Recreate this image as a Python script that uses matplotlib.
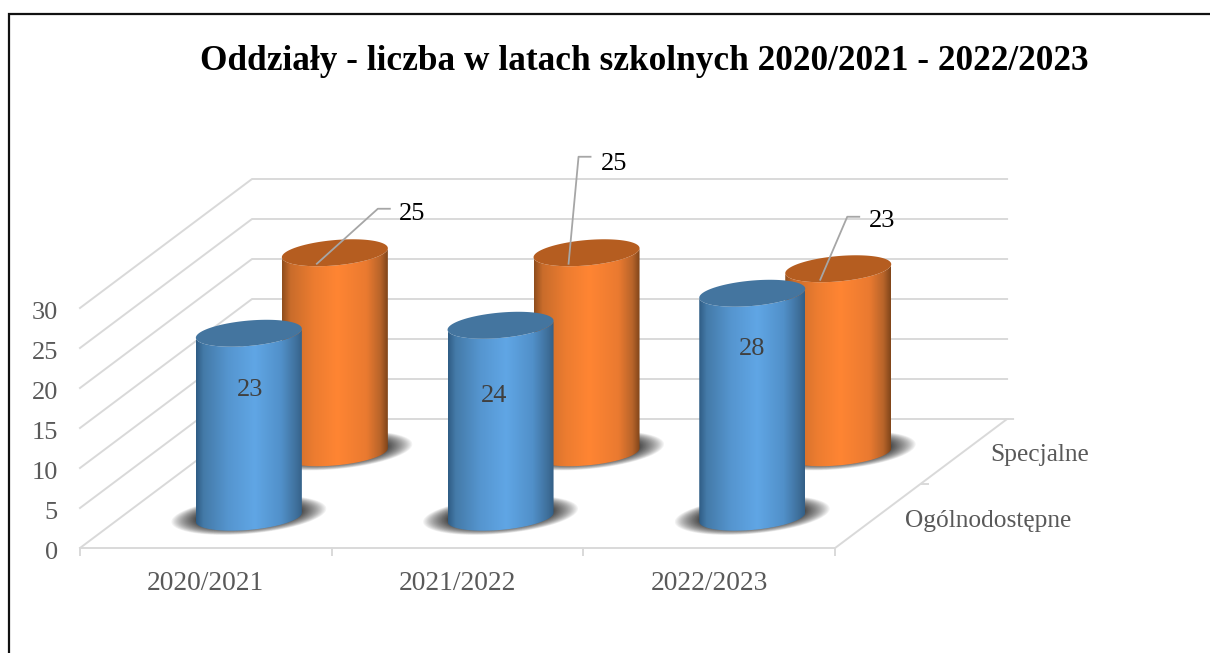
import numpy as np
import matplotlib
matplotlib.use('Agg')
import matplotlib.pyplot as plt
from matplotlib.colors import LinearSegmentedColormap

# Data
years = ['2020/2021', '2021/2022', '2022/2023']
series = ['Ogólnodostępne', 'Specjalne']
ogolnodostepne = [23, 24, 28]
specjalne = [25, 25, 23]
y_ticks = [0, 5, 10, 15, 20, 25, 30]
title = 'Oddziały - liczba w latach szkolnych 2020/2021 - 2022/2023'

# Oblique projection of the 3D chart, in pixels
X0, Y0 = 80, 548
CAT_W = 251.7
UNIT = 8.0
DEPTH_X, DEPTH_Y = 172, 129
RX, TILT, RY = 53, 4.5, 12.7
GRID = '#d9d9d9'
TXT = '#595959'
SERIF = 'Liberation Serif'


def proj(cat, depth, val):
    return X0 + CAT_W * cat + DEPTH_X * depth, Y0 - DEPTH_Y * depth - UNIT * val


def ellipse(cx, cy, scale=1.0, n=120, start=0, stop=2 * np.pi):
    t = np.linspace(start, stop, n)
    return (cx + scale * RX * np.cos(t),
            cy - scale * TILT * np.cos(t) + scale * RY * np.sin(t))


def cylinder(ax, cat, depth, val, cmap, cap, z):
    bx, by = proj(cat, depth, 0)
    by += 1.5
    ty = by - UNIT * val
    # soft shadow on the floor, denser towards the base
    for u in np.linspace(1, 0, 30):
        ex, ey = ellipse(bx, by - 2, 1 + 0.46 * u ** 1.5)
        ax.fill(ex, ey, color='#303030', alpha=0.06, lw=0, zorder=z)
    # body with horizontal gradient, clipped to the silhouette
    lx, ly = ellipse(bx, ty, stop=np.pi)
    gx, gy = ellipse(bx, by, stop=np.pi)
    px = np.r_[lx, gx[::-1]]
    py = np.r_[ly, gy[::-1]]
    poly = ax.fill(px, py, color='none', lw=0, zorder=z + 1)[0]
    grad = np.linspace(0, 1, 256).reshape(1, -1)
    im = ax.imshow(grad, cmap=cmap, aspect='auto', zorder=z + 1,
                   extent=(bx - RX, bx + RX, by + 30, ty - 30))
    im.set_clip_path(poly)
    ex, ey = ellipse(bx, ty)
    ax.fill(ex, ey, color=cap, lw=0, zorder=z + 2)
    return bx, ty


blue = LinearSegmentedColormap.from_list('blue', [
    (0, '#2f5c84'), (0.07, '#447aa8'), (0.3, '#5595cf'), (0.55, '#60a6e5'),
    (0.8, '#5190c9'), (0.94, '#3f709c'), (1, '#335f86')])
orange = LinearSegmentedColormap.from_list('orange', [
    (0, '#8e4d1d'), (0.08, '#c96c2b'), (0.3, '#ec7c30'), (0.52, '#ff8533'),
    (0.8, '#ea7a30'), (0.93, '#b8642a'), (1, '#80451a')])

fig = plt.figure(figsize=(12.1, 6.53), dpi=100)
ax = fig.add_axes([0, 0, 1, 1])
ax.axis('off')

# outer frame
ax.plot([9, 9, 1210], [653, 14, 14], color='#111111', lw=1.6, zorder=1,
        solid_joinstyle='miter')

# walls and floor
for v in y_ticks:
    x1, y1 = proj(0, 0, v)
    x2, y2 = proj(0, 1, v)
    x3, y3 = proj(len(years), 1, v)
    ax.plot([x1, x2, x3], [y1, y2, y3], color=GRID, lw=1.4, zorder=2)
    ax.text(58, y1 + 5, str(v), ha='right', va='center', color=TXT,
            fontsize=19, family=SERIF)
x1, y1 = proj(0, 0, 0)
x2, y2 = proj(len(years), 0, 0)
x3, y3 = proj(len(years), 1, 0)
ax.plot([x1, x2, x3, x3 + 6], [y1, y2, y3, y3], color=GRID, lw=1.4, zorder=2)
for i in range(len(years) + 1):
    tx, ty = proj(i, 0, 0)
    ax.plot([tx, tx], [ty, ty + 7], color=GRID, lw=1.4, zorder=2)
tx, ty = proj(len(years), 0.5, 0)
ax.plot([tx, tx + 7], [ty, ty], color=GRID, lw=1.4, zorder=2)

for i, name in enumerate(years):
    tx, ty = proj(i + 0.5, 0, 0)
    ax.text(tx, ty + 35, name, ha='center', va='center', color=TXT,
            fontsize=19.8, family=SERIF)
ax.text(1039.5, 455, series[1], ha='center', va='center', color=TXT,
        fontsize=18.3, family=SERIF)
ax.text(988.5, 521, series[0], ha='center', va='center', color=TXT,
        fontsize=18.3, family=SERIF)

# back row first, then the front row over it
leader_ends = [(61, -55), (10, -107), (27, -63)]
outer_shift = [(34, 5), (36, 7), (35, 4)]
for i, val in enumerate(specjalne):
    cx, ty = cylinder(ax, i + 0.5, 0.75, val, orange, '#b55d20', 3)
    sx, sy = cx - 18, ty + 11
    ex, ey = leader_ends[i]
    ax.plot([sx, sx + ex, sx + ex + 12], [sy, sy + ey, sy + ey],
            color='#a6a6a6', lw=1.3, zorder=8)
    ax.text(sx + ex + outer_shift[i][0], sy + ey + outer_shift[i][1], str(val),
            ha='center', va='center', color='black', fontsize=19, family=SERIF,
            zorder=9)

label_drop = [57, 71, 56]
label_shift = [1, -6, 0]
for i, val in enumerate(ogolnodostepne):
    cx, ty = cylinder(ax, i + 0.5, 0.25, val, blue, '#44759f', 10)
    ax.text(cx + label_shift[i], ty + label_drop[i], str(val), ha='center',
            va='center', color='#404040', fontsize=19, family=SERIF, zorder=14)

ax.text(644, 62, title, ha='center', va='center', color='black', fontsize=25.4,
        fontweight='bold', family=SERIF)

ax.set_xlim(0, 1210)
ax.set_ylim(653, 0)
fig.savefig('out.png', dpi=100)
